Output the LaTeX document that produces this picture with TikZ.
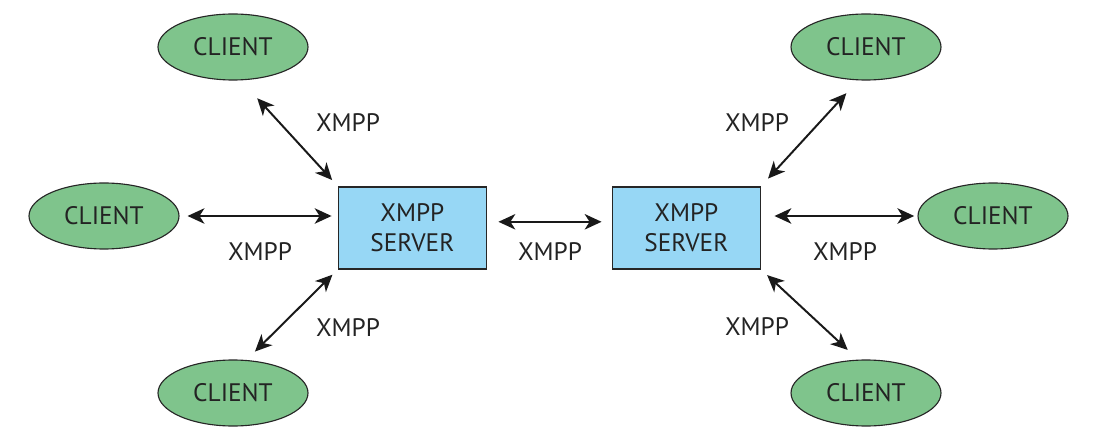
\documentclass[tikz,border=0pt]{standalone}
\usepackage{fontspec}
\setmainfont{PT Sans}
\usetikzlibrary{shapes.geometric, arrows.meta}

\definecolor{clientgreen}{RGB}{127,196,140}
\definecolor{serverblue}{RGB}{151,215,245}
\definecolor{textgray}{RGB}{35,35,35}

\begin{document}
\begin{tikzpicture}[
	client/.style = {ellipse, draw = black!85, thick, fill = clientgreen, minimum width = 3.75cm, minimum height = 1.65cm, inner sep = 0, text = textgray, font = \fontsize{18}{21}\selectfont},
	server/.style = {rectangle, draw = black!85, very thick, fill = serverblue, minimum width = 3.7cm, minimum height = 2.05cm, align = center, text = textgray, font = \fontsize{18}{21.3}\selectfont},
	proto/.style = {text = textgray, font = \fontsize{18}{21}\selectfont},
	link/.style = {{Stealth[length = 12pt, width = 11pt, inset = 3.5pt]}-{Stealth[length = 12pt, width = 11pt, inset = 3.5pt]}, line width = 1.4pt, black!90}
	]

	\useasboundingbox (0, 0) rectangle (27.4, 11.025);

	% Servers

	\node [server] (sL) at (10.31, 5.33) {XMPP\\SERVER};
	\node [server] (sR) at (17.16, 5.33) {XMPP\\SERVER};

	% Clients

	\node [client] (cTL) at (5.825, 9.85) {CLIENT};
	\node [client] (cML) at (2.6, 5.625) {CLIENT};
	\node [client] (cBL) at (5.825, 1.2) {CLIENT};

	\node [client] (cTR) at (21.65, 9.85) {CLIENT};
	\node [client] (cMR) at (24.825, 5.625) {CLIENT};
	\node [client] (cBR) at (21.65, 1.2) {CLIENT};

	% Connections

	\draw [link, shorten < = 0.6cm, shorten > = 0.2cm] ([xshift = 0.2cm]cTL.south) -- (sL.north west);
	\draw [link, shorten < = 0.2cm, shorten > = 0.15cm] (cML.east) -- (sL.west |- cML.east);
	\draw [link, shorten < = 0.18cm, shorten > = 0.28cm] (sL.south west) -- ([xshift = 0.35cm]cBL.north);

	\draw [link, shorten < = 0.28cm, shorten > = 0.25cm] ([yshift = 0.15cm]sL.east) -- ([yshift = 0.15cm]sR.west);

	\draw [link, shorten < = 0.43cm, shorten > = 0.25cm] ([xshift = -0.2cm]cTR.south) -- (sR.north east);
	\draw [link, shorten < = 0.33cm, shorten > = 0.08cm] (sR.east |- cMR.west) -- (cMR.west);
	\draw [link, shorten < = 0.2cm, shorten > = 0.35cm] (sR.south east) -- ([xshift = -0.2cm]cBR.north);

	% Labels

	\node [proto] (lTL) at (8.7, 7.95) {XMPP};
	\node [proto] (lML) at (6.5, 4.725) {XMPP};
	\node [proto] (lBL) at (8.7, 2.825) {XMPP};
	\node [proto] (lS) at (13.75, 4.725) {XMPP};
	\node [proto] (lTR) at (18.925, 7.95) {XMPP};
	\node [proto] (lMR) at (21.125, 4.725) {XMPP};
	\node [proto] (lBR) at (18.925, 2.85) {XMPP};

\end{tikzpicture}
\end{document}
